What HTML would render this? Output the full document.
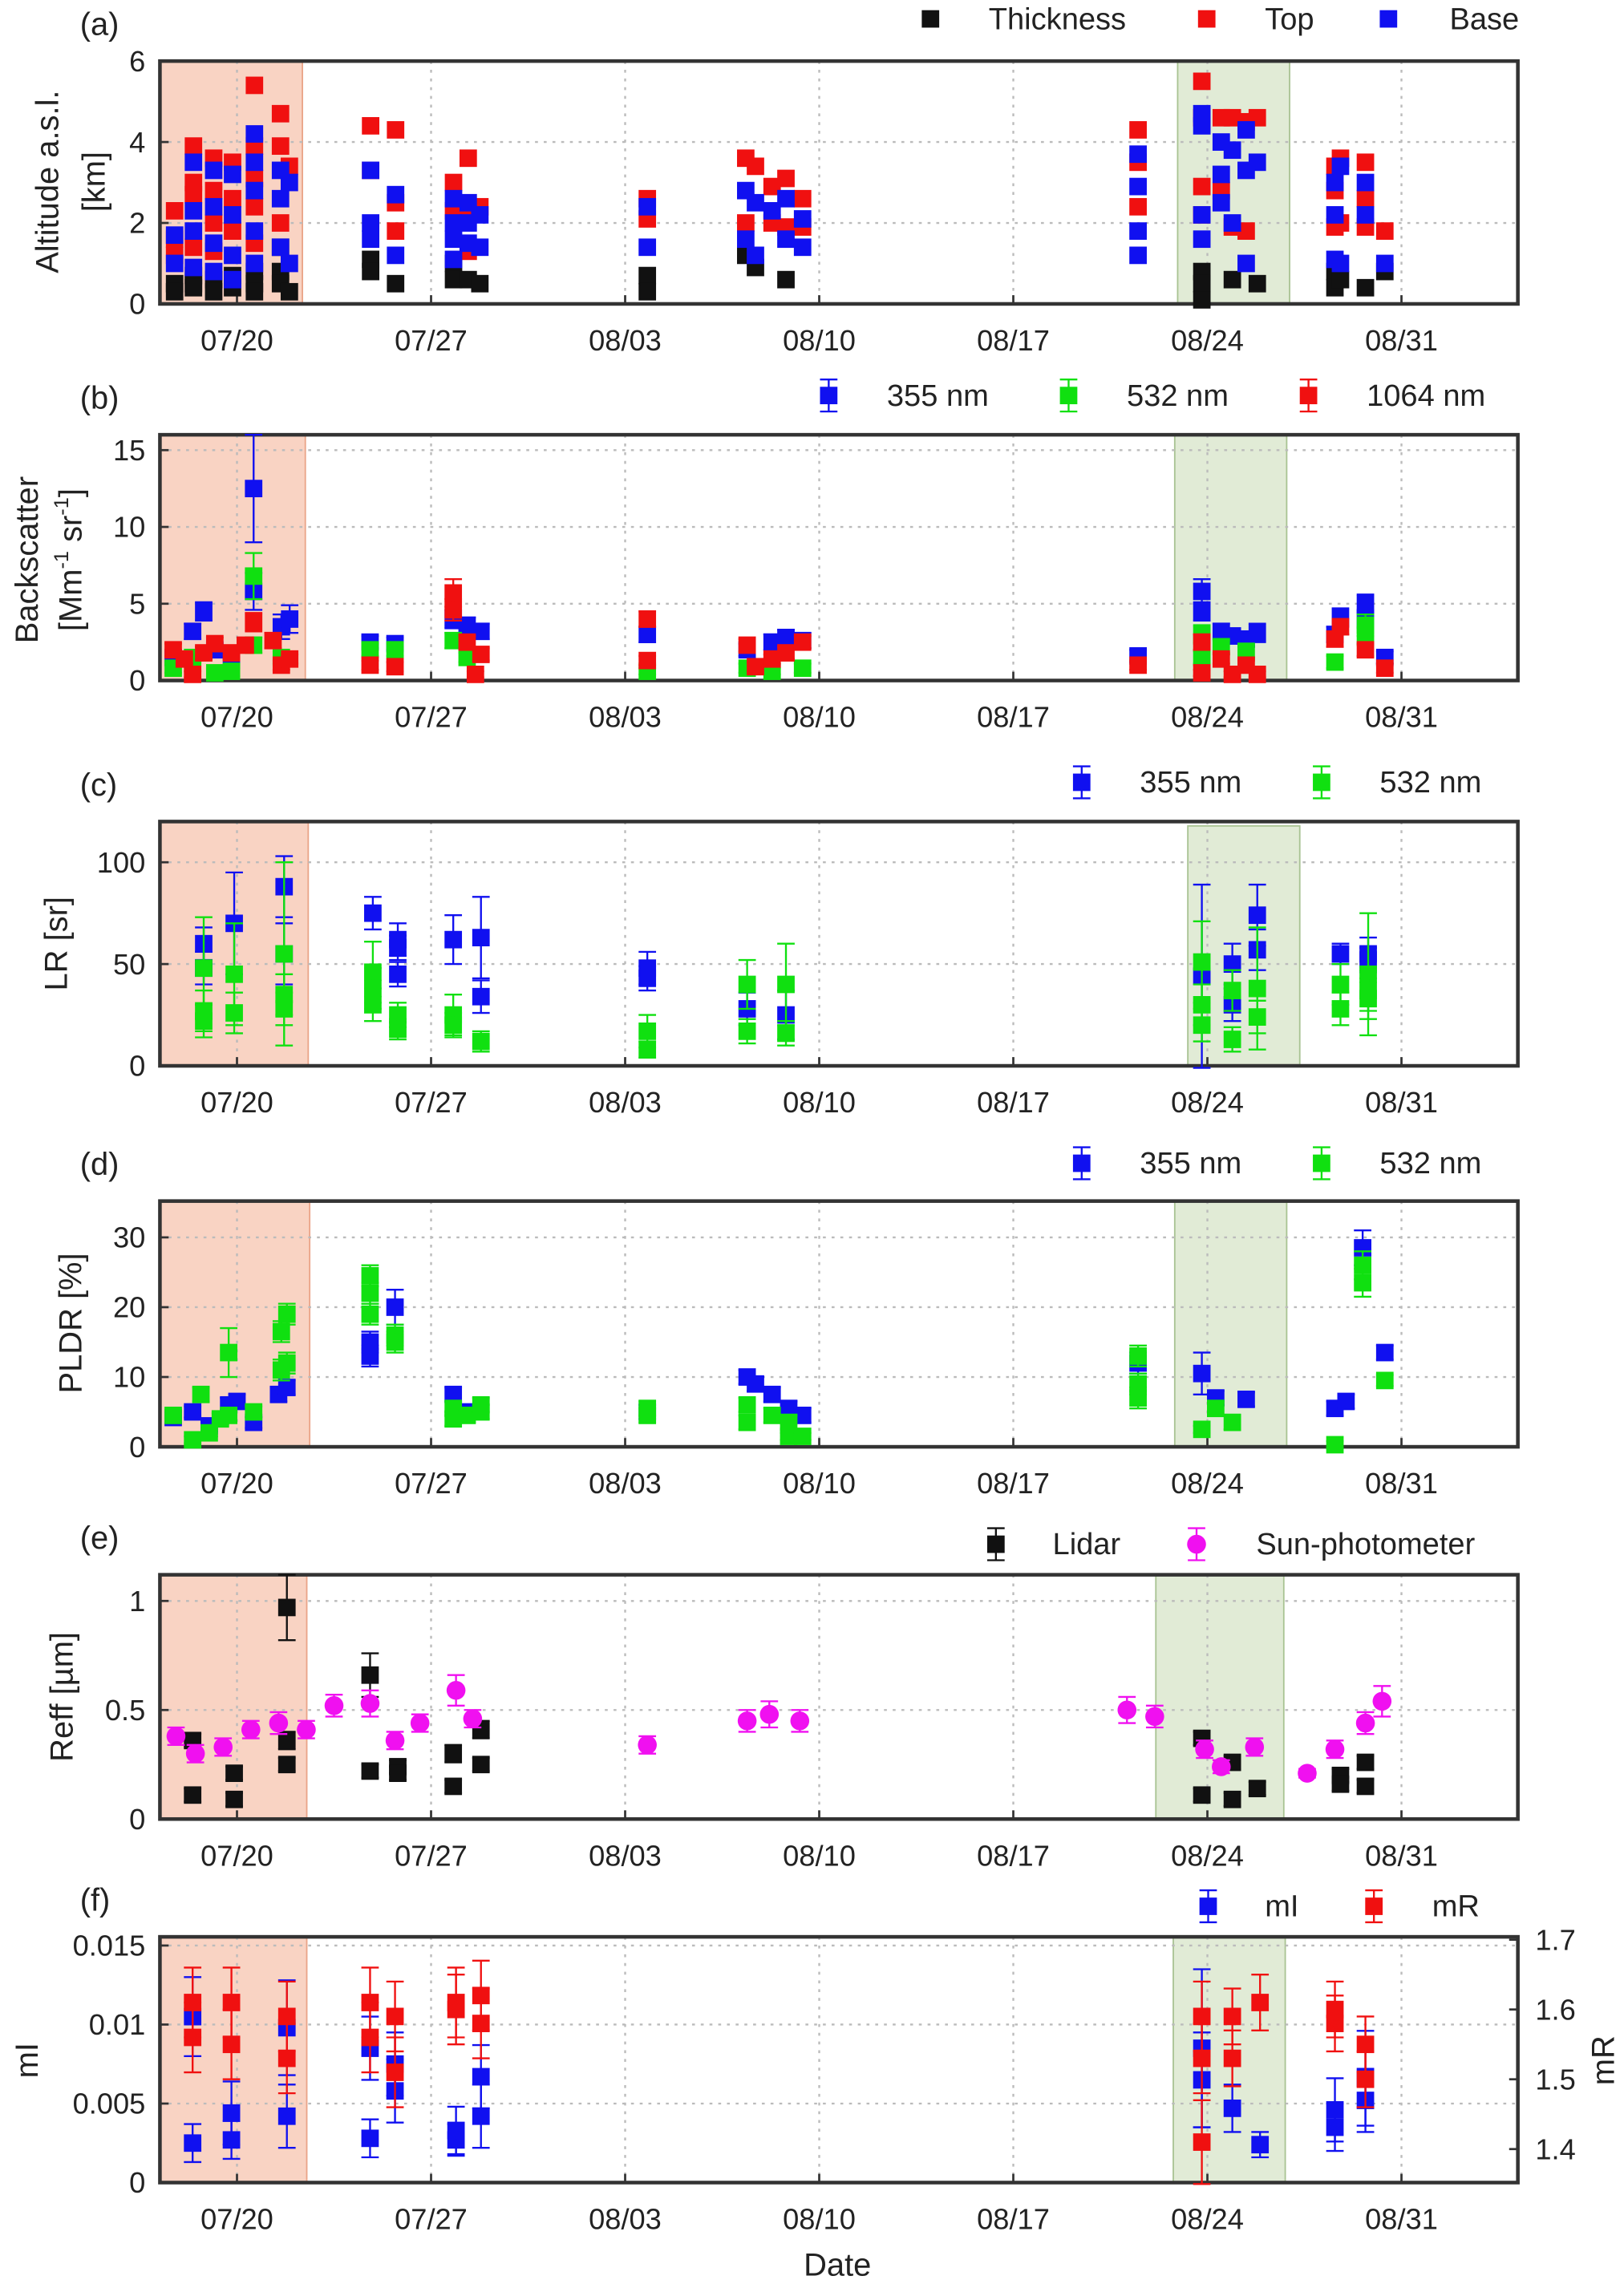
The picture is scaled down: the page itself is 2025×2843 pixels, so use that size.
<!DOCTYPE html>
<html><head><meta charset="utf-8"><style>
html,body{margin:0;padding:0;background:#fff}
svg{display:block}
text{font-family:"Liberation Sans",Arial,sans-serif;fill:#222}
</style></head><body>
<svg id="fig" xmlns="http://www.w3.org/2000/svg" width="2025" height="2843" viewBox="0 0 1117 1568" preserveAspectRatio="none"></svg>
<script>
// ---- Data (day offset from 07/20) ----
const dateTicks = [0,7,14,21,28,35,42];
const dateLabels = ["07/20","07/27","08/03","08/10","08/17","08/24","08/31"];
// (a) cloud altitudes [day, km]
const topPts = [[-2.25,2.3],[-2.25,1.6],[-2.25,1.2],[-1.57,3.9],[-1.57,3.0],[-1.57,2.7],[-1.57,1.4],[-0.84,3.6],[-0.84,2.8],[-0.84,2.0],[-0.84,1.3],[-0.16,3.5],[-0.16,2.6],[-0.16,1.8],[0.63,5.4],[0.63,3.9],[0.63,3.1],[0.63,2.4],[0.63,1.5],[1.57,4.7],[1.57,3.9],[1.57,2.0],[1.89,3.4],[4.82,4.4],[4.82,3.3],[5.72,4.3],[5.72,2.5],[5.72,1.8],[7.81,3.0],[7.81,2.3],[8.34,3.6],[8.34,2.4],[8.34,1.3],[8.76,2.4],[14.8,2.6],[14.8,2.1],[18.35,3.6],[18.35,2.0],[18.7,3.4],[19.3,2.9],[19.3,2.0],[19.8,3.1],[19.8,1.9],[20.4,2.6],[20.4,1.9],[32.5,4.3],[32.5,3.5],[32.5,2.4],[34.8,5.5],[34.8,4.6],[34.8,2.9],[34.8,2.2],[35.5,4.6],[35.5,2.8],[35.9,4.6],[35.9,1.9],[36.4,4.5],[36.4,1.8],[36.8,4.6],[39.6,3.4],[39.6,2.8],[39.6,1.9],[39.8,3.6],[39.8,2.0],[40.7,3.5],[40.7,2.6],[40.7,1.9],[41.4,1.8]];
const basePts = [[-2.25,1.7],[-2.25,1.0],[-1.57,3.5],[-1.57,2.3],[-1.57,1.8],[-1.57,0.9],[-0.84,3.3],[-0.84,2.4],[-0.84,1.5],[-0.84,0.8],[-0.16,3.2],[-0.16,2.2],[-0.16,1.2],[-0.16,0.6],[0.63,4.2],[0.63,3.5],[0.63,2.8],[0.63,1.8],[0.63,1.0],[1.57,1.4],[1.57,3.3],[1.57,2.6],[1.89,3.0],[1.89,1.0],[4.82,3.3],[4.82,2.0],[4.82,1.6],[5.72,2.7],[5.72,1.2],[7.81,2.6],[7.81,2.0],[7.81,1.6],[7.81,1.1],[8.34,2.5],[8.34,2.0],[8.34,1.5],[8.76,2.2],[8.76,1.4],[14.8,2.4],[14.8,1.4],[18.35,2.8],[18.35,1.6],[18.7,2.5],[18.7,1.2],[19.3,2.3],[19.8,2.6],[19.8,1.6],[20.4,2.1],[20.4,1.4],[32.5,3.7],[32.5,2.9],[32.5,1.8],[32.5,1.2],[34.8,4.7],[34.8,4.4],[34.8,2.2],[34.8,1.6],[35.5,4.0],[35.5,3.2],[35.5,2.5],[35.9,3.8],[35.9,2.0],[36.4,4.3],[36.4,3.3],[36.4,1.0],[36.8,3.5],[39.6,3.0],[39.6,2.2],[39.6,1.1],[39.8,3.4],[39.8,1.0],[40.7,3.0],[40.7,2.2],[41.4,1.0]];
const thickPts = [[-2.25,0.5],[-2.25,0.3],[-1.57,0.7],[-1.57,0.5],[-1.57,0.4],[-0.84,0.6],[-0.84,0.3],[-0.16,0.7],[-0.16,0.4],[0.63,0.8],[0.63,0.5],[0.63,0.3],[1.57,1.4],[1.57,0.8],[1.57,0.5],[1.89,0.3],[4.82,1.1],[4.82,0.8],[5.72,0.5],[7.81,1.0],[7.81,0.6],[8.34,0.6],[8.76,0.5],[14.8,0.7],[14.8,0.3],[18.35,1.2],[18.7,0.9],[19.8,0.6],[34.8,0.8],[34.8,0.5],[34.8,0.1],[35.9,0.6],[36.8,0.5],[39.6,0.8],[39.6,0.4],[39.8,0.6],[40.7,0.4],[41.4,0.8]];
// (b) backscatter [day, value, err]
const bsc355 = [[-2.3,1.5,0.4],[-1.6,3.2,0.5],[-1.2,4.5,0.6],[-0.8,2.0,0.4],[-0.2,1.3,0.4],[0.6,12.5,3.5],[0.6,5.8,1.2],[1.6,3.5,0.8],[1.9,4.0,0.9],[4.8,2.5,0.4],[5.7,2.4,0.4],[7.8,4.0,0.6],[8.3,3.6,0.5],[8.8,3.2,0.5],[14.8,3.0,0.5],[18.4,2.0,0.4],[19.3,2.5,0.5],[19.8,2.8,0.5],[20.4,2.6,0.5],[32.5,1.6,0.4],[34.8,5.8,0.8],[34.8,4.5,0.6],[35.5,3.2,0.5],[35.9,2.9,0.5],[36.4,2.7,0.5],[36.8,3.1,0.6],[39.6,3.0,0.5],[39.8,4.1,0.6],[40.7,5.0,0.6],[40.7,4.0,0.6],[41.4,1.5,0.4]];
const bsc532 = [[-2.3,0.8,0.3],[-1.6,1.5,0.3],[-0.8,0.5,0.3],[-0.2,0.6,0.3],[0.6,6.8,1.5],[0.6,2.3,0.5],[1.6,1.5,0.4],[4.8,2.0,0.4],[5.7,2.0,0.4],[7.8,2.6,0.5],[8.3,1.5,0.3],[14.8,0.6,0.2],[18.4,0.8,0.3],[19.3,0.6,0.2],[20.4,0.8,0.3],[34.8,3.0,0.6],[34.8,1.5,0.4],[35.5,2.2,0.4],[36.4,1.9,0.4],[39.6,1.2,0.4],[40.7,3.6,0.7],[40.7,2.9,0.6]];
const bsc1064 = [[-2.3,2.0,0.4],[-1.9,1.4,0.3],[-1.6,0.4,0.2],[-1.2,1.8,0.4],[-0.8,2.4,0.4],[-0.2,1.8,0.4],[0.3,2.3,0.4],[0.6,3.8,0.6],[1.3,2.6,0.5],[1.6,1.0,0.3],[1.9,1.4,0.3],[4.8,1.0,0.3],[5.7,0.9,0.3],[7.8,5.7,0.9],[7.8,4.6,0.7],[8.3,2.5,0.4],[8.6,0.4,0.2],[8.8,1.7,0.4],[14.8,4.0,0.5],[14.8,1.3,0.3],[18.4,2.3,0.4],[18.7,0.9,0.3],[19.3,1.4,0.3],[19.8,1.8,0.4],[20.4,2.5,0.4],[32.5,1.0,0.3],[34.8,2.5,0.5],[34.8,0.5,0.2],[35.5,1.4,0.3],[35.9,0.4,0.2],[36.4,1.0,0.3],[36.8,0.4,0.2],[39.6,2.7,0.5],[39.8,3.5,0.5],[40.7,2.0,0.4],[41.4,0.8,0.3]];
// (c) lidar ratio
const lr355 = [[-1.2,60,8],[-1.2,48,8],[-0.1,70,25],[1.7,88,15],[1.7,55,15],[4.9,75,8],[5.8,62,8],[5.8,58,6],[5.8,45,6],[7.8,62,12],[8.8,63,20],[8.8,34,8],[14.8,48,8],[14.8,43,6],[18.4,28,8],[19.8,25,12],[34.8,44,45],[35.9,50,10],[35.9,30,8],[36.8,74,15],[36.8,57,10],[39.8,55,5],[40.8,55,8],[40.8,52,6]];
const lr532 = [[-1.2,48,25],[-1.2,27,10],[-1.2,22,8],[-0.1,45,25],[-0.1,26,10],[1.7,55,45],[1.7,35,10],[1.7,28,8],[4.9,46,15],[4.9,38,10],[4.9,30,8],[5.8,25,6],[5.8,18,5],[7.8,25,10],[7.8,20,6],[8.8,12,5],[14.8,17,8],[14.8,8,4],[18.4,40,12],[18.4,17,6],[19.8,40,20],[19.8,16,6],[34.8,51,20],[34.8,30,10],[34.8,20,8],[35.9,37,10],[35.9,13,6],[36.8,38,30],[36.8,24,8],[39.8,40,10],[39.8,28,8],[40.8,45,30],[40.8,33,10],[40.8,37,10]];
// (d) PLDR
const pl355 = [[-2.3,4.2,0.8],[-1.6,5.0,0.8],[-1.0,3.0,0.8],[-0.3,6.0,1],[0.0,6.5,1],[0.6,3.5,0.8],[1.5,7.5,1],[1.8,8.5,1],[4.8,13,1.5],[4.8,15,1.5],[5.7,20,2.5],[7.8,7.5,1],[8.3,5,1],[14.8,5,1],[18.4,10,1],[18.7,9,1],[19.3,7.5,1],[19.9,5.5,1],[20.4,4.5,1],[32.5,12,1.5],[34.8,10.5,3],[35.3,7,1],[36.4,6.8,1],[39.6,5.5,1],[40.0,6.5,1],[40.6,28.5,2.5],[41.4,13.5,1]];
const pl532 = [[-2.3,4.5,0.8],[-1.6,1.0,0.5],[-1.3,7.5,1],[-1.0,2.0,0.5],[-0.6,4.0,0.8],[-0.3,13.5,3.5],[-0.3,4.5,0.8],[0.6,5,0.8],[1.6,16.5,1.5],[1.6,11,1.5],[1.8,19,1.5],[1.8,12,1.5],[4.8,24.5,1.5],[4.8,22,1.5],[4.8,19,1.5],[5.7,16,1.5],[5.7,15,1.5],[7.8,5.5,1],[7.8,4,1],[8.3,4.5,1],[8.8,6,1],[8.8,5,1],[14.8,5.5,1],[14.8,4.5,1],[18.4,6,1],[18.4,3.5,1],[19.3,4.5,1],[19.9,3.5,1],[19.9,1.5,0.5],[20.4,1.5,0.5],[32.5,13,1.5],[32.5,9,1.5],[32.5,7,1.5],[34.8,2.5,0.5],[35.3,5.5,1],[35.9,3.5,1],[39.6,0.3,0.5],[40.6,26,2],[40.6,23.5,2],[41.4,9.5,0.8]];
// (e) effective radius
const reffLidar = [[-1.6,0.11,0.03],[-1.6,0.36,0.03],[-0.1,0.21,0.03],[-0.1,0.09,0.03],[1.8,0.97,0.15],[1.8,0.36,0.04],[1.8,0.25,0.03],[4.8,0.66,0.1],[4.8,0.22,0.03],[5.8,0.24,0.03],[5.8,0.21,0.03],[7.8,0.3,0.04],[7.8,0.15,0.03],[8.8,0.41,0.04],[8.8,0.25,0.03],[34.8,0.37,0.03],[34.8,0.11,0.03],[35.9,0.26,0.03],[35.9,0.09,0.03],[36.8,0.14,0.03],[39.8,0.2,0.03],[39.8,0.16,0.03],[40.7,0.26,0.03],[40.7,0.15,0.03]];
const reffSun = [[-2.2,0.38,0.04],[-1.5,0.3,0.04],[-0.5,0.33,0.04],[0.5,0.41,0.04],[1.5,0.44,0.05],[2.5,0.41,0.04],[3.5,0.52,0.05],[4.8,0.53,0.06],[5.7,0.36,0.04],[6.6,0.44,0.04],[7.9,0.59,0.07],[8.5,0.46,0.04],[14.8,0.34,0.04],[18.4,0.45,0.05],[19.2,0.48,0.06],[20.3,0.45,0.05],[32.1,0.5,0.06],[33.1,0.47,0.05],[34.9,0.32,0.04],[35.5,0.24,0.03],[36.7,0.33,0.04],[38.6,0.21,0.02],[39.6,0.32,0.04],[40.7,0.44,0.05],[41.3,0.54,0.07]];
// (f) refractive index
const mIPts = [[-1.6,0.0025,0.0012],[-1.6,0.0105,0.0025],[-0.2,0.0027,0.0012],[-0.2,0.0044,0.002],[1.8,0.0042,0.002],[1.8,0.0098,0.003],[4.8,0.0028,0.0012],[4.8,0.0085,0.002],[5.7,0.0058,0.002],[5.7,0.0075,0.002],[7.9,0.0027,0.001],[7.9,0.0033,0.0015],[8.8,0.0067,0.002],[8.8,0.0042,0.002],[34.8,0.0085,0.005],[34.8,0.0065,0.003],[35.9,0.0047,0.0015],[36.9,0.0024,0.0008],[39.6,0.0035,0.0015],[39.6,0.0046,0.002],[40.7,0.0066,0.003],[40.7,0.0052,0.002]];
const mRPts = [[-1.6,1.61,0.05],[-1.6,1.56,0.05],[-0.2,1.61,0.05],[-0.2,1.55,0.05],[1.8,1.59,0.05],[1.8,1.53,0.05],[4.8,1.61,0.05],[4.8,1.56,0.05],[5.7,1.59,0.05],[5.7,1.51,0.05],[7.9,1.61,0.05],[7.9,1.60,0.05],[8.8,1.62,0.05],[8.8,1.58,0.05],[34.8,1.59,0.05],[34.8,1.53,0.05],[34.8,1.41,0.06],[35.9,1.59,0.04],[35.9,1.53,0.04],[36.9,1.61,0.04],[39.6,1.60,0.04],[39.6,1.58,0.04],[40.7,1.55,0.04],[40.7,1.50,0.04]];

const NS="http://www.w3.org/2000/svg";
const svg=document.getElementById('fig');
const X0=110,X1=1044,DAY0=163,PXD=19.07;
function xs(d){return DAY0+d*PXD;}
function mk(tag,attrs,parent){const e=document.createElementNS(NS,tag);for(const k in attrs)e.setAttribute(k,attrs[k]);(parent||svg).appendChild(e);return e;}
function txt(s,x,y,attrs,parent){const t=mk('text',Object.assign({x:x,y:y},attrs||{}),parent);t.textContent=s;return t;}
const BLUE='#1010f0',GREEN='#10e010',RED='#f01010',BLACK='#111',MAG='#f010f0';

function panel(p){
  const g=mk('g',{});
  
  
  const ys=v=>p.y1-(v-p.vmin)/(p.vmax-p.vmin)*(p.y1-p.y0);
  p.ys=ys;
  const r1=mk('rect',{x:X0,y:p.y0,width:p.red[1]-X0,height:p.y1-p.y0,fill:'#f9d3c3',stroke:'#eaa488','stroke-width':1},g);
  
  
  const r2=mk('rect',{x:p.green[0],y:p.gy0||p.y0,width:p.green[1]-p.green[0],height:p.y1-(p.gy0||p.y0),fill:'#e1ebd6',stroke:'#a9c393','stroke-width':1},g);
  
  
  dateTicks.forEach((d,i)=>{
    mk('line',{x1:xs(d),x2:xs(d),y1:p.y0,y2:p.y1,stroke:'#bbb','stroke-dasharray':'2,4','stroke-width':1.3},g);
    mk('line',{x1:xs(d),x2:xs(d),y1:p.y1,y2:p.y1-6,stroke:'#333','stroke-width':1.5},g);
    const t=txt(dateLabels[i],xs(d),p.y1+32,{'text-anchor':'middle','font-size':20},g);
    
    
  });
  p.ticks.forEach((v,i)=>{
    mk('line',{x1:X0,x2:X1,y1:ys(v),y2:ys(v),stroke:'#bbb','stroke-dasharray':'2,4','stroke-width':1.3},g);
    mk('line',{x1:X0,x2:X0+6,y1:ys(v),y2:ys(v),stroke:'#333','stroke-width':1.5},g);
    const t=txt(p.tickLabels[i],X0-10,ys(v)+7,{'text-anchor':'end','font-size':20},g);
    
    
  });
  const fr=mk('rect',{x:X0,y:p.y0,width:X1-X0,height:p.y1-p.y0,fill:'none',stroke:'#333','stroke-width':2.5},g);
  
  
  const lt=txt(p.letter,55,p.y0-18,{'font-size':22},g);
  
  
  p.g=g;
  return p;
}
function series(p,pts,color,shape,name,scale){
  const ys=scale||p.ys;
  pts.forEach(pt=>{
    const x=xs(pt[0]),y=ys(pt[1]);
    if(pt.length>2){
      const ya=ys(pt[1]+pt[2]),yb=ys(pt[1]-pt[2]);
      mk('line',{x1:x,x2:x,y1:ya,y2:yb,stroke:color,'stroke-width':1.3},p.g);
      mk('line',{x1:x-6,x2:x+6,y1:ya,y2:ya,stroke:color,'stroke-width':1.3},p.g);
      mk('line',{x1:x-6,x2:x+6,y1:yb,y2:yb,stroke:color,'stroke-width':1.3},p.g);
    }
    let m;
    if(shape==='c') m=mk('circle',{cx:x,cy:y,r:6.5,fill:color},p.g);
    else m=mk('rect',{x:x-6,y:y-6,width:12,height:12,fill:color},p.g);
    
    
  });
}
function legend(items,y,err){
  items.forEach(it=>{
    const g=mk('g',{});
    
    
    if(err){
      mk('line',{x1:it[0],x2:it[0],y1:y-11,y2:y+11,stroke:it[2],'stroke-width':1.3},g);
      mk('line',{x1:it[0]-6,x2:it[0]+6,y1:y-11,y2:y-11,stroke:it[2],'stroke-width':1.3},g);
      mk('line',{x1:it[0]-6,x2:it[0]+6,y1:y+11,y2:y+11,stroke:it[2],'stroke-width':1.3},g);
    }
    if(it[4]==='c') mk('circle',{cx:it[0],cy:y,r:6.5,fill:it[2]},g);
    else mk('rect',{x:it[0]-6,y:y-6,width:12,height:12,fill:it[2]},g);
    txt(it[1],it[3],y+7,{'font-size':21},g);
  });
}
function ytitle(lines,cx,cy){
  lines.forEach(l=>{
    const t=txt('',0,0,{'font-size':22,'text-anchor':'middle',transform:`translate(${l[0]},${cy}) rotate(-90)`});
    t.innerHTML=l[1];
    
    
  });
}

const pa=panel({name:'panel-a-altitude',letter:'(a)',y0:42,y1:209,vmin:0,vmax:6,ticks:[0,2,4,6],tickLabels:['0','2','4','6'],red:[X0,208],green:[810,887]});
series(pa,thickPts,BLACK,'s','thickness-point');
series(pa,topPts,RED,'s','top-point');
series(pa,basePts,BLUE,'s','base-point');
legend([[640,'Thickness',BLACK,680],[830,'Top',RED,870],[955,'Base',BLUE,997]],13,false);
ytitle([[40,'Altitude a.s.l.'],[72,'[km]']],0,125);

const pb=panel({name:'panel-b-backscatter',letter:'(b)',y0:299,y1:468,vmin:0,vmax:16,ticks:[0,5,10,15],tickLabels:['0','5','10','15'],red:[X0,210],green:[808,885]});
series(pb,bsc355,BLUE,'s','bsc355-point');
series(pb,bsc532,GREEN,'s','bsc532-point');
series(pb,bsc1064,RED,'s','bsc1064-point');
legend([[570,'355 nm',BLUE,610],[735,'532 nm',GREEN,775],[900,'1064 nm',RED,940]],272,true);
ytitle([[26,'Backscatter'],[56,'[Mm<tspan font-size="14" dy="-9">-1</tspan><tspan dy="9"> sr</tspan><tspan font-size="14" dy="-9">-1</tspan><tspan dy="9">]</tspan>']],0,385);

const pc=panel({name:'panel-c-lidar-ratio',letter:'(c)',y0:565,y1:733,vmin:0,vmax:120,ticks:[0,50,100],tickLabels:['0','50','100'],red:[X0,212],green:[817,894],gy0:568});
series(pc,lr355,BLUE,'s','lr355-point');
series(pc,lr532,GREEN,'s','lr532-point');
legend([[744,'355 nm',BLUE,784],[909,'532 nm',GREEN,949]],538,true);
ytitle([[46,'LR [sr]']],0,649);

const pd=panel({name:'panel-d-pldr',letter:'(d)',y0:826,y1:995,vmin:0,vmax:35.2,ticks:[0,10,20,30],tickLabels:['0','10','20','30'],red:[X0,213],green:[808,885]});
series(pd,pl355,BLUE,'s','pldr355-point');
series(pd,pl532,GREEN,'s','pldr532-point');
legend([[744,'355 nm',BLUE,784],[909,'532 nm',GREEN,949]],800,true);
ytitle([[56,'PLDR [%]']],0,910);

const pe=panel({name:'panel-e-reff',letter:'(e)',y0:1083,y1:1251,vmin:0,vmax:1.12,ticks:[0,0.5,1],tickLabels:['0','0.5','1'],red:[X0,211],green:[795,883]});
series(pe,reffLidar,BLACK,'s','reff-lidar-point');
series(pe,reffSun,MAG,'c','reff-sun-point');
legend([[685,'Lidar',BLACK,724,'s'],[823,'Sun-photometer',MAG,864,'c']],1062,true);
ytitle([[50,'Reff [µm]']],0,1167);

const pf=panel({name:'panel-f-refractive-index',letter:'(f)',y0:1332,y1:1501,vmin:0,vmax:0.01555,ticks:[0,0.005,0.01,0.015],tickLabels:['0','0.005','0.01','0.015'],red:[X0,211],green:[807,884]});
const ysR=v=>1501-(v-1.352)*480;
const rAx=[1.4,1.5,1.6,1.7];
rAx.forEach(v=>{
  mk('line',{x1:X1,x2:X1-6,y1:ysR(v),y2:ysR(v),stroke:'#333','stroke-width':1.5},pf.g);
  const t=txt(String(v),X1+12,ysR(v)+7,{'font-size':20},pf.g);
  
  
});
series(pf,mIPts,BLUE,'s','mI-point');
series(pf,mRPts,RED,'s','mR-point',ysR);
legend([[831,'mI',BLUE,870],[945,'mR',RED,985]],1311,true);
ytitle([[26,'mI']],0,1417);
ytitle([[1110,'mR']],0,1417);
const xt=txt('Date',576,1565,{'font-size':22,'text-anchor':'middle'});


</script>
</body></html>
